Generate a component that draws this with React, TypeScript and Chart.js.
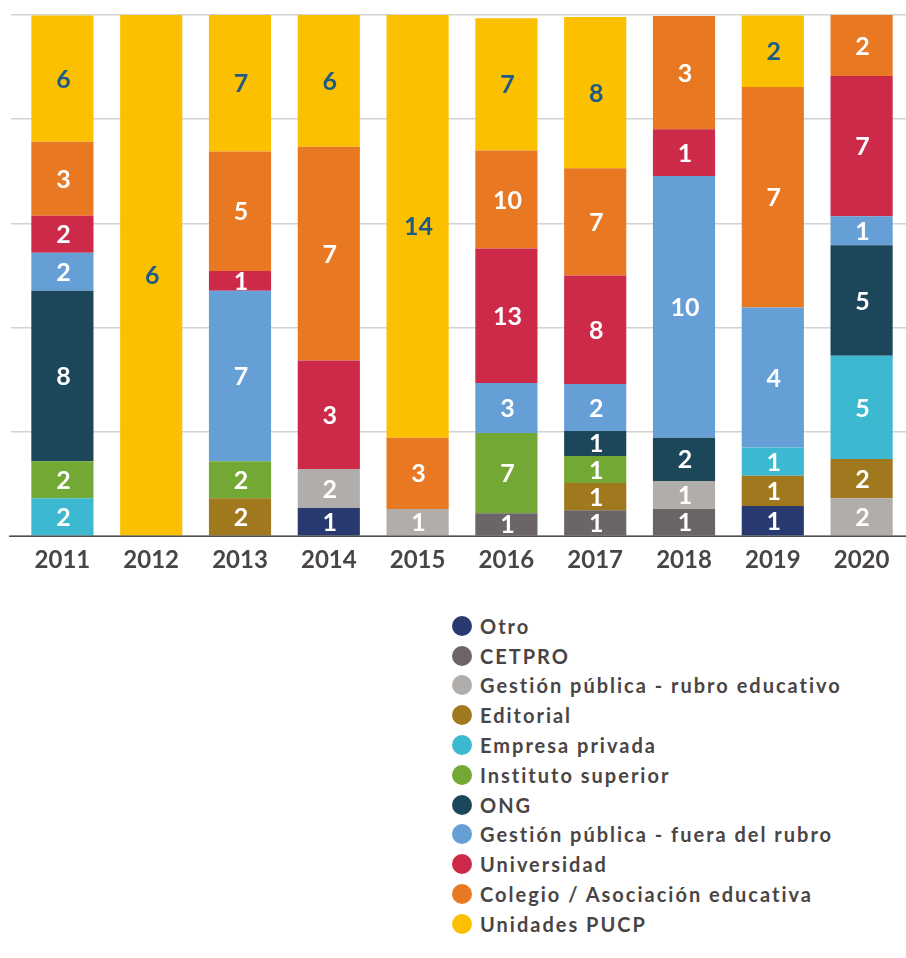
import React, { useEffect, useRef } from "react";
import { Chart, registerables } from "chart.js";

Chart.register(...registerables);

const years = ["2011", "2012", "2013", "2014", "2015", "2016", "2017", "2018", "2019", "2020"];

const seriesNames = [
  "Otro",
  "CETPRO",
  "Gestión pública - rubro educativo",
  "Editorial",
  "Empresa privada",
  "Instituto superior",
  "ONG",
  "Gestión pública - fuera del rubro",
  "Universidad",
  "Colegio / Asociación educativa",
  "Unidades PUCP",
];

const seriesColors = [
  "#283a6f",
  "#6b6665",
  "#b0adaa",
  "#a0781e",
  "#3cb9d0",
  "#73a835",
  "#1c475b",
  "#659fd6",
  "#cd2a4a",
  "#e97822",
  "#fbc100",
];

// share of each bar (% of its height)
const otroShare = [null, null, null, 5.4, null, null, null, null, 5.8, null];
const cetproShare = [null, null, null, null, null, 4.4, 5.0, 5.2, null, null];
const gpRubroShare = [null, null, null, 7.5, 5.2, null, null, 5.4, null, 7.3];
const editorialShare = [null, null, 7.3, null, null, null, 5.2, null, 5.8, 7.5];
const empresaShare = [7.3, null, null, null, null, null, null, null, 5.4, 19.8];
const institutoShare = [7.1, null, 7.1, null, null, 15.4, 5.2, null, null, null];
const ongShare = [32.7, null, null, null, null, null, 4.8, 8.3, null, 21.2];
const gpFueraShare = [7.3, null, 32.7, null, null, 9.6, 9.0, 50.2, 26.9, 5.6];
const universidadShare = [7.1, null, 3.8, 20.8, null, 25.8, 20.8, 9.0, null, 26.9];
const colegioShare = [14.2, null, 22.9, 41.0, 13.7, 18.8, 20.6, 21.7, 42.3, 11.7];
const pucpShare = [24.2, 100, 26.2, 25.3, 81.1, 25.4, 29.0, null, 13.7, null];

// counts shown inside each segment
const otroCount = [null, null, null, 1, null, null, null, null, 1, null];
const cetproCount = [null, null, null, null, null, 1, 1, 1, null, null];
const gpRubroCount = [null, null, null, 2, 1, null, null, 1, null, 2];
const editorialCount = [null, null, 2, null, null, null, 1, null, 1, 2];
const empresaCount = [2, null, null, null, null, null, null, null, 1, 5];
const institutoCount = [2, null, 2, null, null, 7, 1, null, null, null];
const ongCount = [8, null, null, null, null, null, 1, 2, null, 5];
const gpFueraCount = [2, null, 7, null, null, 3, 2, 10, 4, 1];
const universidadCount = [2, null, 1, 3, null, 13, 8, 1, null, 7];
const colegioCount = [3, null, 5, 7, 3, 10, 7, 3, 7, 2];
const pucpCount = [6, 6, 7, 6, 14, 7, 8, null, 2, null];

const shares = [
  otroShare, cetproShare, gpRubroShare, editorialShare, empresaShare, institutoShare,
  ongShare, gpFueraShare, universidadShare, colegioShare, pucpShare,
];
const counts = [
  otroCount, cetproCount, gpRubroCount, editorialCount, empresaCount, institutoCount,
  ongCount, gpFueraCount, universidadCount, colegioCount, pucpCount,
];

const TEXT_COLOR = "#4a4545";
const FONT = "Lato, 'Noto Sans', sans-serif";

const segLabels = {
  id: "segLabels",
  afterDatasetsDraw(chart: any) {
    const ctx = chart.ctx;
    chart.data.datasets.forEach((ds: any, i: number) => {
      const meta = chart.getDatasetMeta(i);
      meta.data.forEach((el: any, j: number) => {
        const c = ds.counts[j];
        if (c == null) return;
        const p = el.getProps(["x", "y", "base"], true);
        ctx.save();
        ctx.fillStyle = ds.labelColor;
        ctx.font = `bold 25px ${FONT}`;
        ctx.textAlign = "center";
        ctx.textBaseline = "middle";
        ctx.fillText(String(c), p.x + 1, (p.y + p.base) / 2 + 1);
        ctx.restore();
      });
    });
  },
};

const baseline = {
  id: "baseline",
  afterDraw(chart: any) {
    const { ctx, chartArea } = chart;
    ctx.save();
    ctx.strokeStyle = "#4f4f4f";
    ctx.lineWidth = 1.5;
    ctx.beginPath();
    ctx.moveTo(9, chartArea.bottom);
    ctx.lineTo(chartArea.right, chartArea.bottom);
    ctx.stroke();
    ctx.restore();
  },
};

export default function App() {
  const ref = useRef<HTMLCanvasElement>(null);

  useEffect(() => {
    document.body.style.margin = "0";
    const chart = new Chart(ref.current as HTMLCanvasElement, {
      type: "bar",
      data: {
        labels: years,
        datasets: seriesNames.map((name, i) => ({
          label: name,
          data: shares[i],
          counts: counts[i],
          labelColor: i === seriesNames.length - 1 ? "#1d5a88" : "#ffffff",
          backgroundColor: seriesColors[i],
          borderWidth: 0,
          barPercentage: 0.7,
          categoryPercentage: 1,
        })) as any,
      },
      options: {
        responsive: false,
        animation: false,
        layout: { padding: { left: 11, right: 0, top: 15, bottom: 15 } },
        plugins: { legend: { display: false }, tooltip: { enabled: false } },
        scales: {
          x: {
            stacked: true,
            grid: { display: false, drawTicks: false },
            border: { display: false },
            ticks: {
              color: TEXT_COLOR,
              padding: 10,
              font: { family: FONT, size: 24, weight: "bold" },
            },
          },
          y: {
            stacked: true,
            min: 0,
            max: 100,
            ticks: { display: false, stepSize: 20 },
            grid: { color: "#d2d2d2", lineWidth: 1.5, drawTicks: true, tickLength: 7 },
            border: { display: false },
          },
        },
      },
      plugins: [segLabels, baseline],
    });
    return () => chart.destroy();
  }, []);

  return (
    <div style={{ position: "relative", width: 906, height: 958, background: "#fff" }}>
      <canvas ref={ref} width={906} height={600} style={{ position: "absolute", left: 0, top: 0 }} />
      <div style={{ position: "absolute", left: 452, top: 611 }}>
        {seriesNames.map((name, i) => (
          <div
            key={name}
            style={{ display: "flex", alignItems: "center", height: 29.8 }}
          >
            <span
              style={{
                width: 20,
                height: 20,
                borderRadius: "50%",
                background: seriesColors[i],
                display: "inline-block",
                marginRight: 8,
                flex: "none",
              }}
            />
            <span
              style={{
                fontFamily: FONT,
                fontWeight: 700,
                fontSize: 20,
                color: TEXT_COLOR,
                letterSpacing: 2,
                whiteSpace: "nowrap",
              }}
            >
              {name}
            </span>
          </div>
        ))}
      </div>
    </div>
  );
}
